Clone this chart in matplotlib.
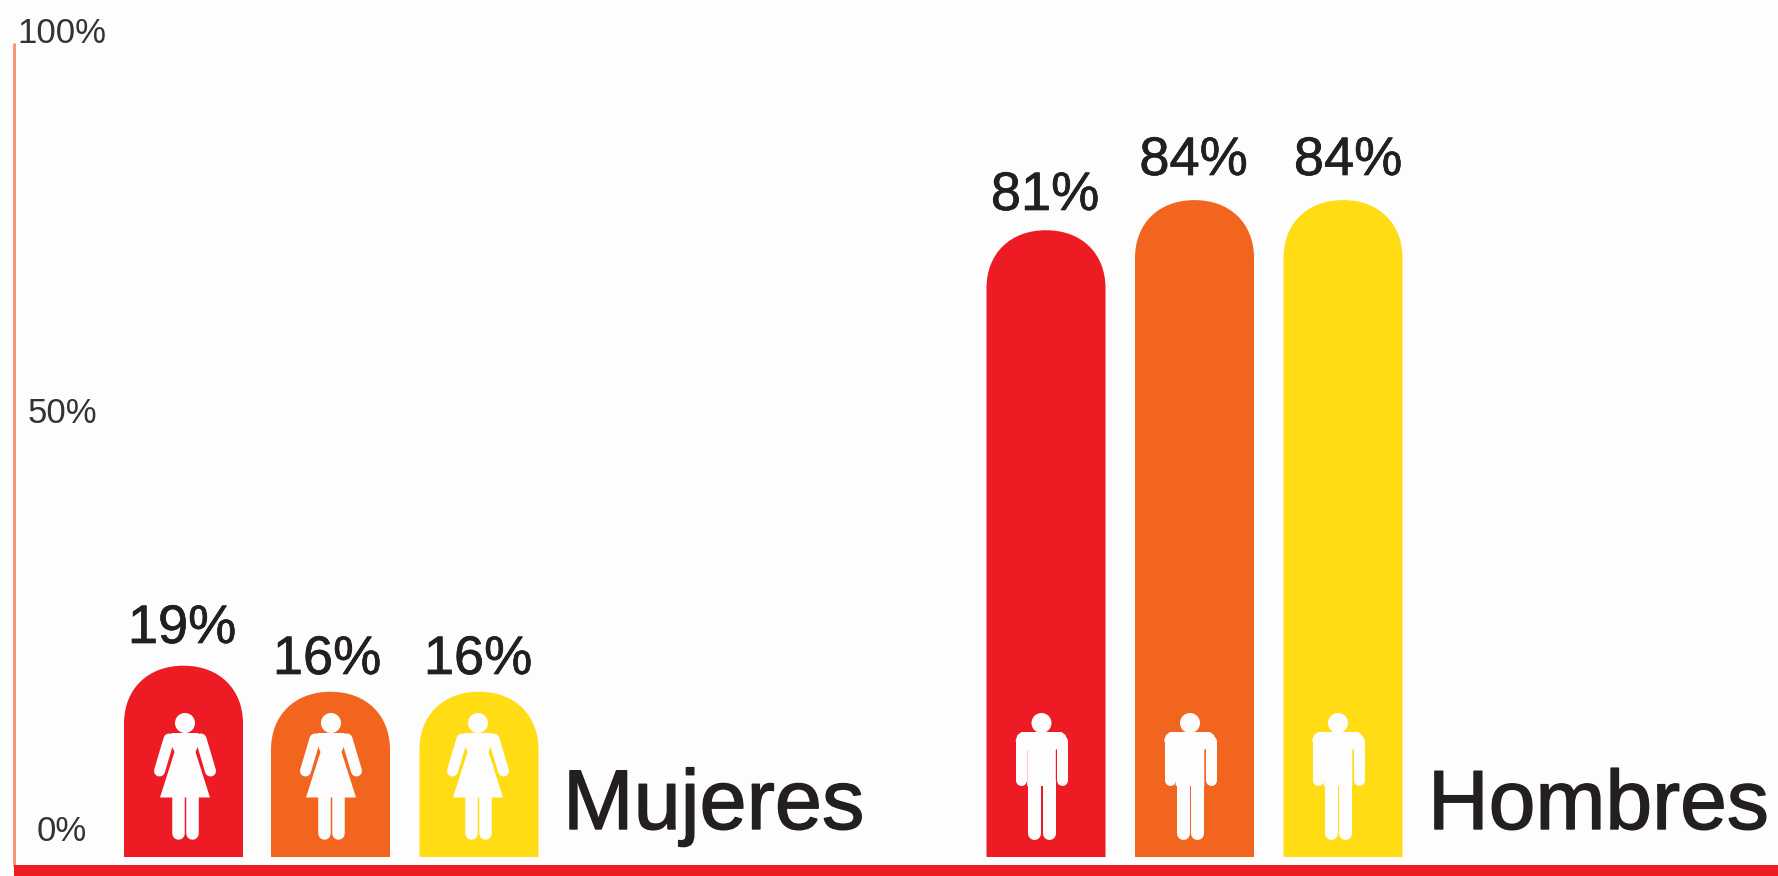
# -*- coding: utf-8 -*-
#%% Imports

import matplotlib
matplotlib.use('Agg')
import matplotlib.pyplot as plt
import matplotlib.patheffects as pe
from matplotlib.path import Path
from matplotlib.patches import PathPatch, Ellipse, Rectangle

plt.rcParams['font.family'] = ['Liberation Sans', 'DejaVu Sans']

#%% Data

group_names = ['Mujeres', 'Hombres']
bar_labels = ['19%', '16%', '16%', '81%', '84%', '84%']
# drawn heights, they do not follow the printed numbers
bar_heights = [23.5, 20.3, 20.3, 77.0, 80.7, 80.7]
bar_groups = [0, 0, 0, 1, 1, 1]
tick_labels = ['0%', '50%', '100%']

#%% Layout

W, H = 1778, 876
y0_px = 857        # pixel row of the 0 line
px_per_pct = 8.14

bar_x = [183.5, 330.5, 479, 1046, 1194.5, 1343]
icon_x = [185, 331, 478, 1041.5, 1190, 1338]
label_x = [182, 327, 478, 1045, 1193.5, 1348]
label_base = [643, 674, 674, 210, 175, 175]
bar_w = 119
dome_h = 58
tick_y = [841, 423, 43]
colors = ['#ED1C24', '#F1651F', '#FFDC14'] * 2
text_col = '#231F20'
bg = '#FDFDFD'


def y_of(py):
    return (y0_px - py) / px_per_pct


def lw_px(px):
    return px * 72 / 100


fig = plt.figure(figsize=(W / 100, H / 100), dpi=100, facecolor=bg)
ax = fig.add_axes([0, 0, 1, 1])
ax.set_xlim(0, W)
ax.set_ylim(y_of(H), y_of(0))
ax.axis('off')


def dome(xc, height, color):
    # bar with a rounded top
    k = 0.6
    rx = bar_w / 2
    l, r = xc - rx, xc + rx
    ry = dome_h / px_per_pct
    verts = [(l, 0), (l, height - ry),
             (l, height - ry + k * ry), (xc - k * rx, height), (xc, height),
             (xc + k * rx, height), (r, height - ry + k * ry), (r, height - ry),
             (r, 0), (l, 0)]
    codes = [Path.MOVETO, Path.LINETO,
             Path.CURVE4, Path.CURVE4, Path.CURVE4,
             Path.CURVE4, Path.CURVE4, Path.CURVE4,
             Path.LINETO, Path.CLOSEPOLY]
    ax.add_patch(PathPatch(Path(verts, codes), facecolor=color, edgecolor='none', zorder=2))


def white_line(cx, pts, width):
    xs = [cx + p[0] for p in pts]
    ys = [y_of(p[1]) for p in pts]
    ax.plot(xs, ys, color=bg, lw=lw_px(width), solid_capstyle='round', zorder=3)


def white_poly(cx, pts):
    ax.fill([cx + p[0] for p in pts], [y_of(p[1]) for p in pts], color=bg, lw=0, zorder=3)


def head(cx):
    # ellipse in data units so it stays round on screen
    ax.add_patch(Ellipse((cx, y_of(723)), 20, 20 / px_per_pct, color=bg, lw=0, zorder=3))


def woman(cx):
    head(cx)
    white_poly(cx, [(-13, 733), (13, 733), (18, 737), (14, 744), (10.5, 752), (25, 797.5),
                    (-25, 797.5), (-10.5, 752), (-14, 744), (-18, 737)])
    for s in (-1, 1):
        white_line(cx, [(s * 16, 739), (s * 25.5, 771)], 11)
        white_line(cx, [(s * 7, 795), (s * 7, 833)], 12.5)


def man(cx):
    head(cx)
    white_poly(cx, [(-20, 732), (20, 732), (24, 735), (26, 741), (14.3, 750), (14.3, 786),
                    (-14.3, 786), (-14.3, 750), (-26, 741), (-24, 735)])
    for s in (-1, 1):
        white_line(cx, [(s * 20.5, 741), (s * 20.5, 780)], 11)
        white_line(cx, [(s * 7.2, 782), (s * 7.2, 833)], 13)


#%% Bars

heavy = [pe.withStroke(linewidth=0.5, foreground=text_col)]

for i in range(len(bar_heights)):
    dome(bar_x[i], bar_heights[i], colors[i])
    if bar_groups[i] == 0:
        woman(icon_x[i])
    else:
        man(icon_x[i])
    ax.text(label_x[i], y_of(label_base[i]), bar_labels[i], ha='center', va='baseline',
            fontsize=39, color=text_col, zorder=4, path_effects=heavy)

#%% Axis lines and labels

ax.plot([14, 14], [y_of(866), y_of(43)], color='#F6957A', lw=lw_px(3), solid_capstyle='butt', zorder=1)
ax.add_patch(Rectangle((14, y_of(H)), W - 14, y_of(865) - y_of(H), facecolor='#ED1C24',
                       edgecolor='none', zorder=2))

for py, lab in zip(tick_y, tick_labels):
    ax.text(62, y_of(py), lab, ha='center', va='baseline', fontsize=25, color='#333333')

heavy2 = [pe.withStroke(linewidth=1.0, foreground=text_col)]
ax.text(563, y_of(829), group_names[0], ha='left', va='baseline', fontsize=61, color=text_col, path_effects=heavy2)
ax.text(1428, y_of(829), group_names[1], ha='left', va='baseline', fontsize=60.5, color=text_col, path_effects=heavy2)

fig.savefig('out.png', dpi=100, facecolor=fig.get_facecolor())
